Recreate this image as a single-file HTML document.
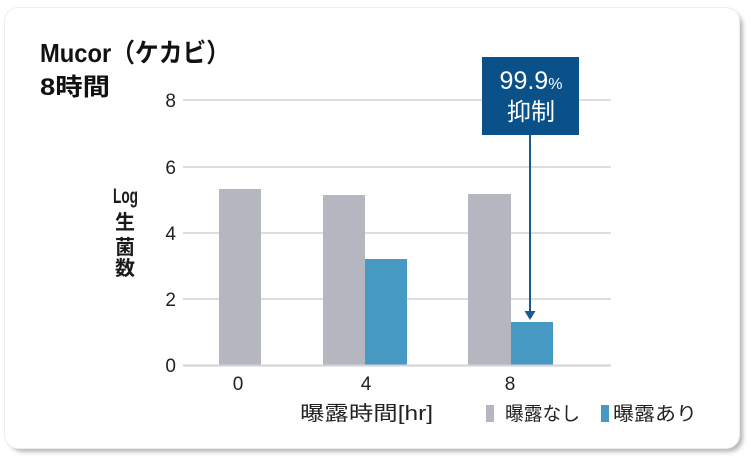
<!DOCTYPE html>
<html>
<head>
<meta charset="utf-8">
<style>
  html, body { margin:0; padding:0; background:#ffffff; }
  body { width:751px; height:456px; overflow:hidden; }
  svg { display:block; }
  .jp { font-family: "Liberation Sans", "Noto Sans CJK JP", sans-serif; }
</style>
</head>
<body>
<svg width="751" height="456" viewBox="0 0 751 456" xmlns="http://www.w3.org/2000/svg">
  <defs>
    <filter id="sh" x="-5%" y="-5%" width="110%" height="115%">
      <feGaussianBlur stdDeviation="2"/>
    </filter>
  </defs>
  <!-- card shadow -->
  <rect x="9" y="12" width="734" height="440" rx="14" fill="#b8b8b8" filter="url(#sh)"/>
  <rect x="4" y="7" width="736" height="442" rx="14" fill="#ececec"/>
  <rect x="5" y="8" width="734" height="440" rx="13" fill="#ffffff"/>

  <!-- title -->
  <text class="jp" x="40" y="62" font-size="26" font-weight="bold" fill="#111" textLength="190" lengthAdjust="spacingAndGlyphs">Mucor（ケカビ）</text>
  <text class="jp" x="40" y="95" font-size="24" font-weight="bold" fill="#111" textLength="70" lengthAdjust="spacingAndGlyphs">8時間</text>

  <!-- gridlines -->
  <g stroke="#c9c9d1" stroke-width="1.3">
    <line x1="183" y1="100" x2="611" y2="100"/>
    <line x1="183" y1="167" x2="611" y2="167"/>
    <line x1="183" y1="233" x2="611" y2="233"/>
    <line x1="183" y1="299" x2="611" y2="299"/>
  </g>

  <!-- bars -->
  <g fill="#b5b7c0">
    <rect x="219" y="189" width="42" height="176"/>
    <rect x="323" y="195" width="42" height="170"/>
    <rect x="468" y="194" width="43" height="171"/>
  </g>
  <g fill="#4699c2">
    <rect x="365" y="259" width="42" height="106"/>
    <rect x="511" y="322" width="42" height="43"/>
  </g>
  <line x1="183" y1="365.5" x2="611" y2="365.5" stroke="#d2d2da" stroke-width="2"/>

  <!-- y ticks -->
  <g class="jp" font-size="19" fill="#222" text-anchor="end">
    <text x="176" y="107">8</text>
    <text x="176" y="174">6</text>
    <text x="176" y="240">4</text>
    <text x="176" y="306">2</text>
    <text x="176" y="372">0</text>
  </g>

  <!-- y axis label -->
  <g class="jp" font-size="20" fill="#1a1a1a" text-anchor="middle">
    <text x="125.5" y="203" font-weight="bold" font-size="21" textLength="25" lengthAdjust="spacingAndGlyphs">Log</text>
    <text x="125" y="229" font-weight="bold">生</text>
    <text x="125" y="254" font-weight="bold">菌</text>
    <text x="125" y="275" font-weight="bold">数</text>
  </g>

  <!-- x ticks -->
  <g class="jp" font-size="19" fill="#222" text-anchor="middle">
    <text x="238" y="390">0</text>
    <text x="366" y="390">4</text>
    <text x="510" y="390">8</text>
  </g>

  <!-- x axis title -->
  <text class="jp" x="300" y="420" font-size="20" fill="#222" textLength="133" lengthAdjust="spacingAndGlyphs">曝露時間[hr]</text>

  <!-- legend -->
  <rect x="486" y="405" width="8" height="17" fill="#b5b7c0"/>
  <text class="jp" x="505" y="420" font-size="19" fill="#222" textLength="75" lengthAdjust="spacingAndGlyphs">曝露なし</text>
  <rect x="601" y="405" width="8" height="17" fill="#4699c2"/>
  <text class="jp" x="613" y="420" font-size="19" fill="#222" textLength="84" lengthAdjust="spacingAndGlyphs">曝露あり</text>

  <!-- callout -->
  <line x1="530" y1="134" x2="530" y2="312" stroke="#1a5a91" stroke-width="2"/>
  <polygon points="524.5,311 535.5,311 530,320" fill="#1a5a91"/>
  <rect x="482" y="57" width="97" height="78" fill="#0b5189"/>
  <text class="jp" x="531" y="89" font-size="25" fill="#ffffff" text-anchor="middle" font-weight="normal">99.9<tspan font-size="16">%</tspan></text>
  <text class="jp" x="531" y="120" font-size="24" fill="#ffffff" text-anchor="middle">抑制</text>
</svg>
</body>
</html>
